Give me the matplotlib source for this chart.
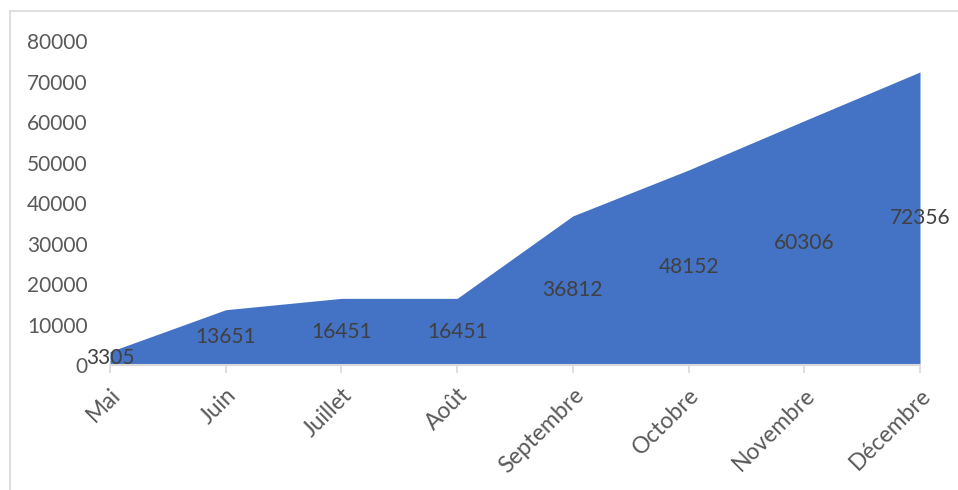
import matplotlib.pyplot as plt
from matplotlib.lines import Line2D

months = ["Mai", "Juin", "Juillet", "Août", "Septembre", "Octobre", "Novembre", "Décembre"]
values = [3305, 13651, 16451, 16451, 36812, 48152, 60306, 72356]
yticks = [0, 10000, 20000, 30000, 40000, 50000, 60000, 70000, 80000]

plt.rcParams["font.family"] = ["Lato", "DejaVu Sans"]

fig = plt.figure(figsize=(9.58, 4.9), dpi=100)
ax = fig.add_axes([110 / 958, 1 - 365 / 490, 810 / 958, 324 / 490])

x = list(range(len(months)))
ax.fill_between(x, values, 0, color="#4472C4", linewidth=0)

for xi, v in zip(x, values):
    ax.text(xi, v / 2, str(v), ha="center", va="center", fontsize=15, color="#404040")

ax.set_xlim(0, len(months) - 1)
ax.set_ylim(0, 80000)
ax.set_yticks(yticks)
ax.set_yticklabels([str(t) for t in yticks], fontsize=15, color="#595959")
ax.set_xticks(x)
ax.set_xticklabels(months, rotation=45, ha="right", rotation_mode="anchor",
                   fontsize=16.5, color="#595959")
ax.tick_params(axis="y", length=0, pad=16)
ax.tick_params(axis="x", length=6, width=1.2, color="#d9d9d9", pad=8)

for s in ["top", "right", "left"]:
    ax.spines[s].set_visible(False)
ax.spines["bottom"].set_color("#d9d9d9")
ax.spines["bottom"].set_linewidth(1.5)

# chart frame (left and top edges visible)
fig.add_artist(Line2D([10 / 958, 10 / 958], [0, 1 - 11 / 490], color="#d9d9d9", lw=1.2,
                      transform=fig.transFigure))
fig.add_artist(Line2D([10 / 958, 1], [1 - 11 / 490, 1 - 11 / 490], color="#d9d9d9", lw=1.2,
                      transform=fig.transFigure))

fig.savefig("out.png", dpi=100)
